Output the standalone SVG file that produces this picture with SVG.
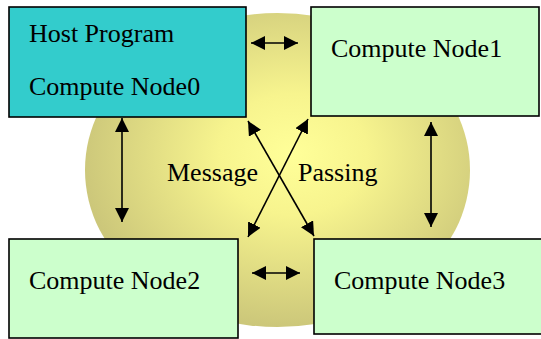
<svg xmlns="http://www.w3.org/2000/svg" width="541" height="339" viewBox="0 0 541 339">
<style>
.box{stroke:#000;stroke-width:1.6}
.host{fill:#33CCCC}
.cn{fill:#CCFFCC}
.t{font-family:"Liberation Serif","Times New Roman",serif;font-size:26px;fill:#000}
.c{stroke:#000;stroke-width:1.6;fill:none;marker-start:url(#ah);marker-end:url(#ah)}
</style>
<defs>
<radialGradient id="g" cx="0.54" cy="0.45" r="0.55">
<stop offset="0" stop-color="#FFFF99"/>
<stop offset="0.35" stop-color="#F7F48E"/>
<stop offset="1" stop-color="#CCC77A"/>
</radialGradient>
<marker id="ah" markerUnits="userSpaceOnUse" markerWidth="15" markerHeight="14" refX="14" refY="7" orient="auto-start-reverse">
<path d="M0,0 L14,7 L0,14 z" fill="#000"/>
</marker>
</defs>
<ellipse id="bg" cx="277.5" cy="170" rx="192.5" ry="157" fill="url(#g)"/>
<g id="label">
<text class="t" x="167" y="181">Message</text>
<text class="t" x="298" y="181">Passing</text>
</g>
<g id="connectors">
<line class="c" x1="251" y1="43" x2="298" y2="43"/>
<line class="c" x1="252" y1="273" x2="300" y2="273"/>
<line class="c" x1="122" y1="118" x2="122" y2="222"/>
<line class="c" x1="431" y1="122" x2="431" y2="227"/>
<line class="c" x1="248" y1="121" x2="314" y2="236"/>
<line class="c" x1="308" y1="119" x2="248" y2="237"/>
</g>
<g id="node0">
<rect class="box host" x="9" y="7" width="237" height="110"/>
<text class="t" x="29" y="42">Host Program</text>
<text class="t" x="29" y="95">Compute Node0</text>
</g>
<g id="node1">
<rect class="box cn" x="311" y="7" width="228" height="109"/>
<text class="t" x="331" y="57">Compute Node1</text>
</g>
<g id="node2">
<rect class="box cn" x="9" y="239" width="229" height="99"/>
<text class="t" x="29" y="289">Compute Node2</text>
</g>
<g id="node3">
<rect class="box cn" x="314" y="239" width="232" height="95"/>
<text class="t" x="334" y="289">Compute Node3</text>
</g>
</svg>
